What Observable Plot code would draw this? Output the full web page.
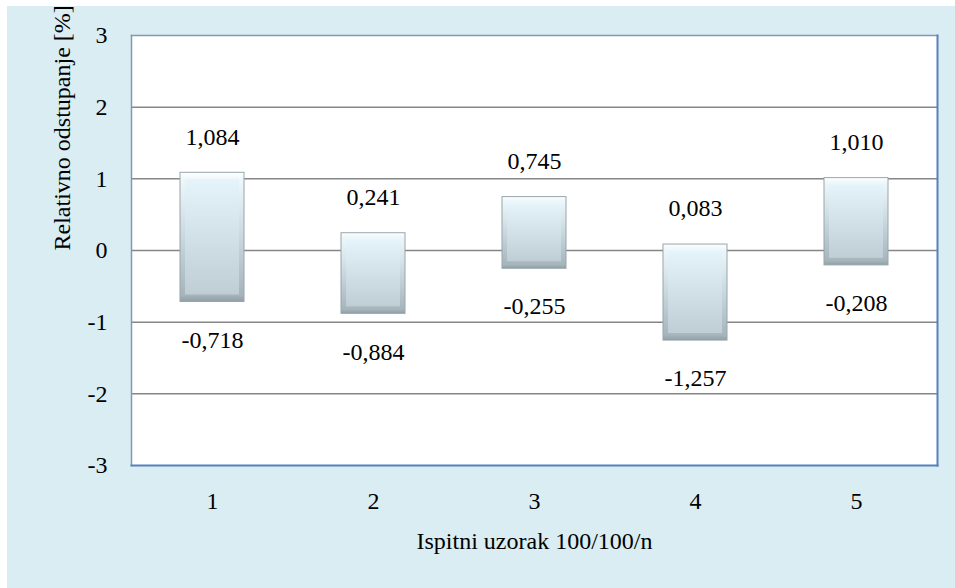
<!DOCTYPE html>
<html>
<head>
<meta charset="utf-8">
<script src="https://cdn.jsdelivr.net/npm/d3@7"></script>
<script src="https://cdn.jsdelivr.net/npm/@observablehq/plot@0.6"></script>
<style>
  html, body { margin: 0; padding: 0; background: #ffffff; }
  #wrap { padding: 6px 0 0 7px; width: 948px; height: 582px; }
  #wrap svg text { font-family: "Liberation Serif", "Times New Roman", serif !important; }
</style>
</head>
<body>
<div id="wrap"></div>
<script>
const samples = [1, 2, 3, 4, 5];
const highValues = [1.084, 0.241, 0.745, 0.083, 1.010];
const lowValues = [-0.718, -0.884, -0.255, -1.257, -0.208];
const yTicks = [-3, -2, -1, 0, 1, 2, 3];
const gridValues = [-2, -1, 0, 1, 2];
const xLabel = "Ispitni uzorak 100/100/n";
const yLabel = "Relativno odstupanje [%]";

const rows = samples.map((s, i) => ({sample: String(s), low: lowValues[i], high: highValues[i]}));
const fmt = v => v.toFixed(3).replace(".", ",");
const font = "Liberation Serif";
const fontCss = "'Liberation Serif', 'Times New Roman', serif";

const chart = Plot.plot({
  width: 948,
  height: 582,
  marginLeft: 124,
  marginRight: 18,
  marginTop: 29,
  marginBottom: 123,
  style: {fontFamily: fontCss, fontSize: "24px", background: "#daedf3"},
  x: {domain: samples.map(String), paddingInner: 0.6, paddingOuter: 0.3, label: null},
  y: {domain: [-3, 3], label: null},
  marks: [
    Plot.frame({fill: "white", stroke: null}),
    Plot.ruleY(gridValues, {stroke: "#868686", strokeWidth: 1.5}),
    Plot.barY(rows, {x: "sample", y1: "low", y2: "high", fill: "url(#barOuter)", stroke: "#97a6ac", strokeWidth: 1}),
    Plot.barY(rows, {x: "sample", y1: "low", y2: "high", insetLeft: 5, insetRight: 5, insetTop: 7, insetBottom: 7, fill: "url(#barFace)"}),
    Plot.text(rows, {x: "sample", y: "high", text: d => fmt(d.high), dy: -36, fill: "black", fontSize: 24, fontFamily: font}),
    Plot.text(rows, {x: "sample", y: "low", text: d => fmt(d.low), dy: 38, fill: "black", fontSize: 24, fontFamily: font}),
    Plot.axisY(yTicks, {tickSize: 0, tickPadding: 24, fontSize: 24, fill: "black", label: null, tickFormat: d => String(d), fontFamily: font}),
    Plot.axisX({tickSize: 0, tickPadding: 26, fontSize: 24, fill: "black", label: null, fontFamily: font}),
    Plot.frame({anchor: "left", stroke: "#8496b2", strokeWidth: 1.5}),
    Plot.frame({anchor: "top", stroke: "#8496b2", strokeWidth: 1.5}),
    Plot.frame({anchor: "right", stroke: "#5581bd", strokeWidth: 2}),
    Plot.frame({anchor: "bottom", stroke: "#5581bd", strokeWidth: 2}),
    Plot.text([xLabel], {frameAnchor: "bottom", dy: 83, text: d => d, fontSize: 24, fill: "black", fontFamily: font}),
    Plot.text([yLabel], {frameAnchor: "left", dx: -69, rotate: -90, text: d => d, fontSize: 24, fill: "black", fontFamily: font})
  ]
});

const NS = "http://www.w3.org/2000/svg";
function grad(id, stops) {
  const g = document.createElementNS(NS, "linearGradient");
  g.setAttribute("id", id);
  g.setAttribute("x1", "0"); g.setAttribute("y1", "0");
  g.setAttribute("x2", "0"); g.setAttribute("y2", "1");
  for (const [o, c] of stops) {
    const s = document.createElementNS(NS, "stop");
    s.setAttribute("offset", o);
    s.setAttribute("stop-color", c);
    g.appendChild(s);
  }
  return g;
}
const defs = document.createElementNS(NS, "defs");
defs.appendChild(grad("barOuter", [["0", "#ffffff"], ["0.05", "#eef8fb"], ["0.5", "#c9d8de"], ["0.95", "#a6b5bb"], ["1", "#909fa5"]]));
defs.appendChild(grad("barFace", [["0", "#e4f4fa"], ["1", "#bfced4"]]));
chart.insertBefore(defs, chart.firstChild);

chart.setAttribute("font-family", fontCss);
chart.querySelectorAll("text").forEach(t => {
  t.setAttribute("font-family", fontCss);
  t.setAttribute("font-size", "24");
  t.style.setProperty("font-family", fontCss, "important");
  t.style.setProperty("font-size", "24px", "important");
});

document.getElementById("wrap").appendChild(chart);
</script>
</body>
</html>
